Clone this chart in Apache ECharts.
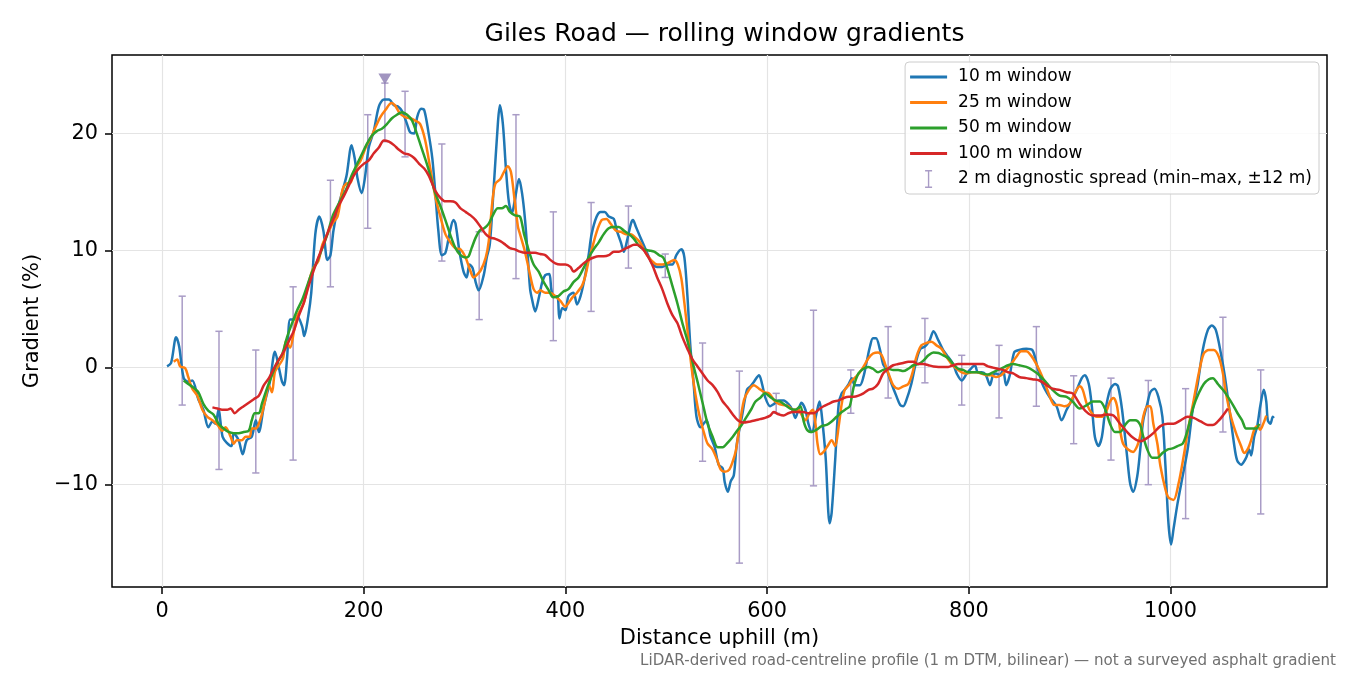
<!DOCTYPE html>
<html><head><meta charset="utf-8">
<script src="https://cdn.jsdelivr.net/npm/echarts@6/dist/echarts.min.js"></script>
<style>html,body{margin:0;padding:0;background:#fff}#c{width:1350px;height:675px}</style>
</head><body><div id="c"></div>
<script>
const xTicks = [0, 200, 400, 600, 800, 1000];
const yTicks = [-10, 0, 10, 20];

const win10 = [[5,0.1],[9,0.4],[14,2.6],[17,1.8],[21.5,-0.9],[26,-1.2],[30,-1.1],[36,-2.7],[41,-3.6],[46,-5.1],[50,-4.6],[53,-4.8],[56,-3.6],[60,-5.9],[64,-6.4],[69,-6.7],[71,-5.6],[76,-6.2],[80,-7.4],[84,-6.2],[89,-5.9],[93,-4.5],[96,-5.5],[101,-3.3],[107,-1.2],[112,1.35],[116,-0.05],[119,-1.2],[121,-1.5],[124,0.8],[127,4.1],[131,4.1],[134,4.4],[139,3.5],[141,2.7],[145,4.4],[148,6.4],[152,11.4],[156,12.9],[160,11.7],[164,9.2],[167,9.6],[170,11.7],[174,13.5],[179,15.1],[183,16.4],[188,19.0],[191,17.9],[194,16.1],[198,14.9],[201,16.1],[205,18.8],[210,20.2],[215,22.3],[220,22.9],[225,22.9],[230,22.4],[234,22.3],[238,21.9],[243,20.8],[246,20.1],[250,20.0],[253,21.4],[257,22.1],[260,22.0],[264,20.2],[268,17.9],[271,14.9],[274,11.7],[277.5,9.6],[281,9.8],[285,11.4],[289,12.6],[291,12.3],[295,9.9],[299,8.2],[302,7.7],[305,8.8],[308,8.5],[311,7.3],[314,6.6],[319,7.9],[322,9.4],[325,10.5],[329,15.5],[333,20.8],[335,22.4],[338,20.8],[341,17.0],[344,14.1],[347,13.2],[350,14.4],[354,16.1],[357,14.9],[360,12.6],[363,9.1],[365,6.7],[367,5.8],[370,4.8],[374,6.1],[377,7.3],[380,7.9],[384,8.0],[386,6.7],[388,6.1],[392,6.1],[394,4.2],[397,5.1],[400,4.9],[403,6.1],[408,6.4],[411.5,5.4],[415,6.1],[419,7.6],[423,9.6],[426,11.4],[431,12.9],[435,13.3],[439,13.3],[443,12.9],[448,12.7],[451,11.7],[455,10.7],[458,9.9],[461,10.8],[465,12.3],[467,12.6],[470,12.0],[474.5,11.1],[478,10.4],[482,9.6],[486,8.9],[491,8.6],[496,8.6],[501,8.8],[506,8.8],[510,9.6],[515,10.1],[518,9.4],[521,6.1],[524,1.7],[527,-1.2],[530,-4.2],[534,-5.1],[537,-4.8],[540,-4.5],[544,-5.9],[548,-6.8],[552,-8.3],[556,-8.6],[558,-9.8],[561,-10.6],[564,-9.7],[567,-9.2],[570,-6.5],[575,-4.2],[580,-1.9],[583.5,-1.6],[587,-1.2],[592,-0.65],[595,-1.4],[598,-2.5],[603,-3.3],[607,-3.1],[611.5,-2.8],[616.5,-2.8],[621,-3.1],[625,-3.6],[628,-4.3],[631,-3.6],[634,-3.0],[638,-3.6],[641,-4.8],[644.5,-5.5],[649,-3.9],[652,-2.9],[654,-3.9],[658,-7.6],[662,-13.3],[664,-12.4],[667.5,-7.9],[671,-3.1],[674,-2.2],[677,-1.9],[681,-1.4],[684,-0.9],[687,-1.5],[692,-1.5],[695.5,-0.8],[699,0.6],[702,1.8],[705,2.5],[708,2.5],[712,1.5],[715,0.3],[718.6,-0.2],[723.5,-1.4],[728.5,-2.5],[732,-3.2],[735,-3.3],[738,-2.8],[743,-1.4],[748,0.6],[752,1.6],[756.5,1.8],[761,2.3],[765,3.1],[770,2.3],[774.6,1.5],[779.6,0.9],[784.5,0.3],[788,-0.5],[793,-1.1],[798,-0.5],[801,-0.2],[806,0.2],[809,-0.4],[812.5,-0.4],[817,-0.65],[821,-1.5],[824,-0.65],[827,-0.5],[830.6,-0.65],[834,-0.2],[837,-1.5],[840.5,-0.7],[845,1.3],[850,1.5],[857,1.6],[863,1.5],[868,0.06],[873,-1.4],[880,-2.5],[887,-3.3],[892,-4.5],[897,-3.6],[902,-2.8],[907,-1.9],[912,-0.9],[915,-0.65],[919,-1.4],[922,-3.3],[925,-5.9],[928.5,-6.7],[932,-5.9],[935,-3.9],[940,-1.9],[945,-1.4],[948,-1.6],[952,-3.6],[957,-7.6],[960,-9.9],[963,-10.6],[967,-9.3],[970,-7.0],[973,-4.5],[977,-3.1],[980,-2.1],[984,-1.8],[988,-2.5],[992,-4.2],[995,-8.4],[998,-13.3],[1000.6,-15.1],[1003,-13.8],[1007,-11.6],[1012,-9.3],[1017,-7.0],[1022,-3.6],[1027,-1.4],[1032,1.5],[1037,3.2],[1041,3.6],[1045,3.2],[1050,1.2],[1054,-0.8],[1058,-3.3],[1063,-6.5],[1066,-7.9],[1070,-8.3],[1075,-7.7],[1078,-7.0],[1080,-7.5],[1083,-5.9],[1086,-5.0],[1089,-3.3],[1092.5,-1.9],[1095,-2.9],[1096.5,-4.5],[1099,-4.8],[1101.5,-4.2],[1102.5,-4.3]];

const win25 = [[11.6,0.5],[15,0.7],[18,0.1],[23,-0.06],[26,-0.8],[30,-1.8],[35,-2.4],[40,-3.6],[45,-4.2],[50,-4.5],[55,-4.9],[60,-5.4],[63,-5.1],[68,-5.9],[71,-6.5],[74,-6.2],[79,-6.2],[83,-5.9],[87,-5.9],[89,-5.2],[93,-5.2],[96,-4.8],[99,-4.0],[102.5,-2.7],[106,-1.5],[109,-2.1],[112,-0.35],[116,0.2],[120,0.8],[123,2.3],[127,1.7],[131,3.2],[134,4.4],[137,4.9],[140.5,5.5],[145.5,7.3],[150,8.5],[155,9.1],[159,10.5],[164,11.4],[169,12.3],[174,12.9],[179,15.2],[182.5,15.7],[187,15.8],[192,17.0],[197,17.7],[202,18.8],[207,19.6],[211.5,20.5],[216.5,21.4],[221.5,22.0],[227.5,22.6],[231,22.4],[236,21.7],[241,21.4],[246,21.3],[251,21.1],[256,20.8],[261,19.4],[266,17.0],[271,14.6],[276,12.9],[281,11.4],[286,10.7],[291,10.2],[296,10.1],[301,9.4],[306,8.2],[309,7.7],[312,7.9],[316,8.3],[321,9.4],[324,10.8],[327.5,14.1],[330.5,15.7],[335.5,16.1],[339,16.7],[343,17.2],[346,16.7],[349.5,14.4],[353,12.0],[355,11.4],[359,10.2],[362,9.1],[365,7.9],[368.5,6.7],[372,6.4],[375,6.6],[380,6.4],[385,6.4],[390,6.1],[395,5.7],[400,5.2],[403,5.5],[407,6.0],[411.5,6.4],[416.5,7.0],[420,7.9],[423,9.1],[426.5,10.2],[431,11.6],[436,12.6],[440.7,12.7],[444.7,12.3],[450,11.7],[455,11.6],[460,11.4],[465,11.4],[469.5,11.1],[473,10.8],[476,10.4],[481,9.6],[486,9.1],[491,8.8],[496,8.8],[501,8.9],[505,9.1],[508,9.2],[511.5,8.8],[515,7.6],[518,5.5],[521,3.2],[524,0.8],[527.5,-1.5],[531,-3.3],[534,-4.5],[537.5,-5.6],[541,-6.5],[546,-7.0],[551,-8.0],[554,-8.7],[558,-8.9],[562.6,-8.7],[566,-8.0],[569,-7.1],[572,-5.4],[577,-2.8],[582,-1.9],[587,-1.5],[592,-1.8],[597,-2.1],[602,-2.2],[607,-2.8],[611.5,-3.1],[616.5,-3.2],[621,-3.3],[626,-3.6],[631,-3.6],[634.6,-4.1],[638,-4.5],[642,-3.9],[645.5,-3.6],[648,-4.8],[650,-6.5],[652.7,-7.4],[656,-7.2],[660,-6.7],[664,-6.2],[667.5,-6.7],[671,-5.0],[674,-3.1],[677,-1.9],[681,-1.5],[684,-1.1],[688,-0.8],[692,-0.4],[695.5,0.06],[700.5,0.8],[705,1.2],[710,1.3],[713.7,1.05],[717,0.3],[721,-0.65],[725,-1.5],[730,-1.8],[735,-1.6],[740,-1.4],[744,-0.5],[748,0.9],[753,1.9],[758,2.1],[763,2.2],[768,1.9],[773,1.6],[778,0.9],[783,0.3],[788,-0.1],[793,-0.4],[798,-0.5],[803,-0.4],[807.6,-0.4],[812.5,-0.5],[817,-0.65],[822,-0.65],[827,-0.8],[832,-0.65],[837,-0.2],[842,0.3],[847,0.9],[852,1.4],[857,1.4],[862,1.0],[867,0.3],[872,-0.6],[877,-1.7],[880,-2.4],[885,-3.2],[890,-3.2],[895,-3.3],[900,-3.1],[905,-2.2],[910,-1.6],[913,-1.9],[917,-3.1],[922,-3.9],[927,-4.2],[932,-4.2],[937,-3.6],[940,-2.9],[943.5,-2.6],[947,-3.3],[950,-5.3],[953,-6.5],[958,-7.0],[963,-7.2],[967,-6.7],[970,-5.8],[973,-4.2],[977,-3.3],[980,-3.3],[983,-4.8],[987,-6.5],[990,-8.4],[995,-10.4],[998,-11.1],[1003,-11.3],[1008,-9.9],[1013,-7.6],[1018,-5.0],[1023,-2.8],[1028,-0.5],[1033,1.2],[1038,1.5],[1043,1.5],[1048,0.9],[1052,-0.5],[1055,-2.2],[1060,-4.2],[1065,-5.6],[1070,-6.7],[1073,-7.3],[1077,-6.9],[1080,-6.2],[1083,-5.3],[1086,-5.0],[1089,-5.3],[1092,-4.8],[1095,-4.1]];

const win50 = [[21.5,-1.1],[26,-1.4],[31,-1.7],[36,-2.1],[41,-3.1],[46,-3.7],[51,-4.0],[56,-4.8],[61,-5.2],[66,-5.5],[71,-5.6],[76,-5.6],[81,-5.5],[86,-5.4],[89,-4.5],[92,-3.9],[96,-3.9],[99,-3.1],[104,-1.8],[109,-0.65],[114,0.4],[119,1.1],[124,2.6],[129,3.8],[134,4.9],[139,5.8],[144,7.0],[149,8.2],[154,9.1],[159,10.2],[164,11.4],[169,12.9],[174,13.8],[179,14.6],[183.5,15.4],[188,16.4],[193,17.3],[198,18.2],[203,19.1],[208,19.8],[213,20.2],[218,20.4],[223,20.8],[228,21.3],[233,21.6],[238,21.8],[243,21.6],[248,21.1],[253,19.9],[258,18.6],[263,17.3],[266,16.4],[271,14.9],[276,13.8],[281,12.6],[286,11.3],[291,10.2],[296,9.6],[301,9.4],[304,9.5],[307,10.2],[311,11.1],[315,11.7],[319.5,11.9],[324,12.3],[328,13.0],[333,13.6],[337,13.6],[341,13.8],[345,13.3],[350,13.0],[355,12.9],[359,11.4],[364,9.9],[368.5,8.8],[373.5,8.2],[378.5,7.3],[383.5,6.6],[388,6.0],[393,6.1],[398,6.5],[403,6.7],[408,7.3],[413,7.7],[418,8.5],[423,9.4],[428,10.1],[433,10.7],[438,11.4],[443,11.9],[448,12.0],[453,12.0],[458,11.7],[463,11.4],[468,11.0],[473,10.4],[478,10.1],[483,10.0],[488,9.9],[493,9.6],[497,9.4],[501,8.5],[506,7.0],[511,5.5],[516,3.8],[521,2.3],[526,0.5],[531,-1.2],[536,-3.0],[541,-4.8],[546,-5.9],[551,-6.8],[556,-6.8],[561,-6.4],[566,-5.9],[571,-5.3],[574,-5.0],[579,-4.3],[584,-3.6],[588.5,-2.9],[593,-2.6],[598,-2.2],[603,-2.5],[608,-2.8],[613,-2.9],[618,-3.2],[623,-3.5],[628,-3.6],[633,-3.3],[636,-4.5],[639.5,-5.3],[644.5,-5.5],[649,-5.3],[654,-5.0],[659,-4.9],[664,-4.6],[669,-4.2],[674,-3.8],[679,-3.5],[682,-3.3],[686,-1.6],[690.6,-0.5],[695.5,-0.1],[700.5,0.06],[705,-0.1],[710,-0.4],[715,-0.2],[720,-0.1],[725,-0.2],[730,-0.2],[735,-0.3],[740,-0.1],[745,0.2],[750,0.3],[755,0.6],[760,1.05],[765,1.3],[770,1.25],[774.6,1.05],[779.6,0.8],[784.5,0.3],[789.5,-0.1],[794.4,-0.2],[799,-0.4],[804,-0.4],[809,-0.4],[814,-0.5],[819,-0.6],[824,-0.4],[829,-0.2],[834,0.0],[839,0.2],[844,0.3],[850,0.2],[857,0.06],[863,-0.2],[870,-0.65],[877,-1.3],[883,-1.9],[890,-2.4],[897,-2.5],[903,-2.9],[910,-3.5],[917,-3.2],[923,-2.9],[930,-2.9],[935,-3.5],[940,-4.8],[945,-5.5],[950,-5.5],[955,-4.9],[960,-4.5],[965,-4.5],[970,-4.9],[973,-5.9],[977,-7.0],[982,-7.7],[987,-7.7],[992,-7.3],[997,-7.0],[1002,-6.9],[1007,-6.7],[1012,-6.5],[1015,-5.9],[1018,-5.0],[1023,-3.3],[1028,-2.2],[1033,-1.4],[1038,-1.0],[1042,-0.9],[1047,-1.4],[1052,-1.9],[1057,-2.5],[1062,-3.2],[1066.5,-3.9],[1071,-4.5],[1075,-5.2],[1080,-5.2],[1085,-5.2],[1088,-4.8]];

const win100 = [[50,-3.4],[55,-3.5],[59.5,-3.6],[64.5,-3.6],[68,-3.5],[72,-3.9],[76,-3.6],[81,-3.3],[86,-3.0],[91,-2.7],[96,-2.4],[101,-1.5],[106,-0.9],[111,-0.06],[116,0.7],[121,1.4],[126,2.3],[131,3.2],[135.5,4.4],[140.5,5.5],[145.5,7.0],[150,8.2],[155,9.4],[160,10.5],[165,11.7],[170,12.7],[175,13.8],[180,14.6],[185,15.5],[190,16.4],[195,17.0],[200,17.4],[205,17.7],[210,18.3],[215,18.8],[220,19.4],[225,19.3],[230,19.0],[235,18.6],[240,18.3],[245,18.2],[250,17.9],[255,17.4],[260,17.0],[264.5,16.4],[268,15.7],[271,15.1],[276,14.5],[281,14.2],[286,14.2],[291,14.1],[296,13.6],[301,13.3],[306,13.0],[311,12.6],[316,12.0],[321,11.4],[325.5,11.1],[330.5,11.0],[335.5,10.8],[340.5,10.5],[345,10.2],[350,10.1],[355,9.9],[360,9.8],[365,9.8],[370,9.8],[375,9.7],[380,9.6],[385,9.2],[390,8.9],[395,8.8],[400,8.8],[405,8.6],[408,8.2],[413,8.5],[418,8.9],[423,9.2],[428,9.4],[433,9.5],[438,9.5],[443,9.6],[448,9.9],[453,9.9],[458,10.1],[463,10.3],[468,10.5],[471,10.5],[476,10.2],[481,9.6],[486,8.8],[491,7.7],[496,6.7],[501,5.5],[506,4.5],[511,3.8],[516,2.6],[521,1.6],[526,0.7],[531,0.1],[536,-0.5],[541,-1.1],[546,-1.5],[551,-2.1],[556,-2.9],[561,-3.4],[566,-4.0],[571,-4.5],[576,-4.7],[583.5,-4.6],[588.5,-4.5],[593,-4.4],[598,-4.3],[603,-4.1],[606.6,-3.8],[611.5,-4.0],[616.5,-4.1],[621,-3.9],[626,-3.8],[631,-3.8],[636,-3.8],[641,-3.9],[646,-3.9],[651,-3.6],[656,-3.3],[661,-3.1],[666,-2.9],[671,-2.8],[676,-2.6],[681,-2.5],[686,-2.5],[690.6,-2.4],[695.5,-2.2],[700.5,-1.9],[705,-1.8],[710,-1.4],[715,-0.5],[720,-0.1],[725,0.2],[730,0.3],[735,0.4],[740,0.5],[745,0.5],[750,0.3],[755,0.3],[760,0.2],[765,0.1],[770,0.06],[774.6,0.06],[779.6,0.06],[784.5,0.2],[789.5,0.3],[794.4,0.3],[799,0.3],[804,0.3],[809,0.3],[814,0.3],[819,0.1],[824,0.0],[829,-0.1],[834,-0.2],[839,-0.4],[844,-0.5],[850,-0.8],[857,-0.9],[863,-1.0],[870,-1.1],[877,-1.5],[883,-1.8],[890,-1.9],[897,-2.1],[903,-2.2],[910,-3.1],[917,-3.8],[923,-4.1],[930,-4.1],[937,-4.0],[943.5,-4.1],[950,-4.8],[957,-5.5],[963,-6.0],[970,-6.3],[977,-6.0],[983,-5.6],[990,-5.0],[997,-4.8],[1003,-4.8],[1010,-4.5],[1017,-4.2],[1023,-4.3],[1030,-4.6],[1037,-4.9],[1042,-4.9],[1047,-4.6],[1052,-4.1],[1057,-3.5]];

// 2 m diagnostic spread: [distance, min, max]
const spread = [[20,-3.2,6.1],[56.5,-8.7,3.1],[93,-9.0,1.5],[130,-7.9,6.9],[167,6.9,16.0],[204,11.9,21.6],[221,19.3,24.3],[241,18.0,23.6],[277.5,9.1,19.1],[314.5,4.1,11.6],[351,7.6,21.6],[388,2.3,13.3],[425.5,4.8,14.1],[462.5,8.5,13.8],[499,7.7,9.7],[536,-8.0,2.1],[572.5,-16.7,-0.3],[609,-3.9,-2.2],[646,-10.1,4.9],[683,-3.9,-0.2],[720,-2.6,3.5],[756.5,-1.3,4.2],[793,-3.2,1.05],[830,-4.3,1.9],[867,-3.3,3.5],[904,-6.5,-0.7],[941,-7.9,-0.9],[978,-10.0,-1.1],[1015,-12.9,-1.8],[1052,-5.5,4.3],[1089.5,-12.5,-0.2]];
const peak = [[221, 24.65]];

const names = ['10 m window', '25 m window', '50 m window', '100 m window', '2 m diagnostic spread (min\u2013max, \u00b112 m)'];
const colors = ['#1f77b4', '#ff7f0e', '#2ca02c', '#d62728'];
const spreadColor = '#a99cc6';
const FONT = 'DejaVu Sans';
const lineIcon = 'path://M0,0H37V3H0Z';

const chart = echarts.init(document.getElementById('c'), null, {renderer: 'canvas'});
function lineSeries(name, data, color) {
  return {name, type: 'line', data, symbol: 'none', smooth: 0.3, z: 3,
    lineStyle: {color, width: 2.5}, itemStyle: {color}};
}
const fmtY = v => v < 0 ? '\u2212' + Math.abs(v) : String(v);
const fmtX = v => String(v);

chart.setOption({
  animation: false,
  textStyle: {fontFamily: FONT},
  title: {text: 'Giles Road \u2014 rolling window gradients', left: 719.5, top: 17, textAlign: 'center',
    textStyle: {fontSize: 25, fontWeight: 'normal', color: '#000', fontFamily: FONT}},
  grid: {left: 112, right: 23, top: 55, bottom: 88, show: true, borderColor: '#000', borderWidth: 1.5, containLabel: false},
  legend: {orient: 'vertical', right: 31, top: 62, padding: [5, 7, 5, 5], itemWidth: 37, itemHeight: 18, itemGap: 5.5,
    backgroundColor: 'rgba(255,255,255,0.85)', borderColor: '#cccccc', borderWidth: 1, borderRadius: 4,
    textStyle: {fontSize: 17, color: '#000', fontFamily: FONT, lineHeight: 20, padding: [0, 0, 0, 6]},
    data: [{name: names[0], icon: lineIcon}, {name: names[1], icon: lineIcon},
      {name: names[2], icon: lineIcon}, {name: names[3], icon: lineIcon},
      {name: names[4], icon: 'path://M0,0H7V1.4H4.2V16.6H7V18H0V16.6H2.8V1.4H0Z'}]},
  xAxis: {type: 'value', min: -49.6, max: 1155.2, name: 'Distance uphill (m)', nameLocation: 'middle', nameGap: 41,
    nameTextStyle: {fontSize: 21, color: '#000', fontFamily: FONT},
    axisLine: {show: false, onZero: false},
    axisTick: {show: true, inside: false, customValues: xTicks, length: 7, lineStyle: {color: '#000', width: 1.5}},
    axisLabel: {customValues: xTicks, fontSize: 20.8, color: '#000', margin: 14, fontFamily: FONT, formatter: fmtX},
    splitLine: {show: true, lineStyle: {color: '#e4e4e4', width: 1.2}}},
  yAxis: {type: 'value', min: -18.74, max: 26.7, name: 'Gradient (%)', nameLocation: 'middle', nameGap: 62,
    nameTextStyle: {fontSize: 21, color: '#000', fontFamily: FONT},
    axisLine: {show: false, onZero: false},
    axisTick: {show: true, inside: false, customValues: yTicks, length: 7, lineStyle: {color: '#000', width: 1.5}},
    axisLabel: {customValues: yTicks, fontSize: 20.8, color: '#000', margin: 14, fontFamily: FONT, formatter: fmtY},
    splitLine: {show: true, lineStyle: {color: '#e4e4e4', width: 1.2}}},
  series: [
    lineSeries(names[0], win10, colors[0]),
    lineSeries(names[1], win25, colors[1]),
    lineSeries(names[2], win50, colors[2]),
    lineSeries(names[3], win100, colors[3]),
    {name: names[4], type: 'custom', data: spread, z: 1, itemStyle: {color: spreadColor},
      encode: {x: 0, y: [1, 2]},
      renderItem: function (params, api) {
        const x = api.value(0), lo = api.value(1), hi = api.value(2);
        const p1 = api.coord([x, hi]), p2 = api.coord([x, lo]);
        const hw = 3.6;
        const st = {stroke: spreadColor, lineWidth: 1.5, fill: null};
        return {type: 'group', children: [
          {type: 'line', shape: {x1: p1[0], y1: p1[1], x2: p2[0], y2: p2[1]}, style: st},
          {type: 'line', shape: {x1: p1[0] - hw, y1: p1[1], x2: p1[0] + hw, y2: p1[1]}, style: st},
          {type: 'line', shape: {x1: p2[0] - hw, y1: p2[1], x2: p2[0] + hw, y2: p2[1]}, style: st}
        ]};
      }},
    {name: 'peak', type: 'scatter', data: peak, symbol: 'triangle', symbolRotate: 180, symbolSize: [13, 11], z: 4,
      itemStyle: {color: '#8a7bb0'}}
  ],
  graphic: [{type: 'text', right: 14, bottom: 6,
    style: {text: 'LiDAR-derived road-centreline profile (1 m DTM, bilinear) \u2014 not a surveyed asphalt gradient',
      fontSize: 15.1, fill: '#707070', fontFamily: FONT}}]
});
</script></body></html>
